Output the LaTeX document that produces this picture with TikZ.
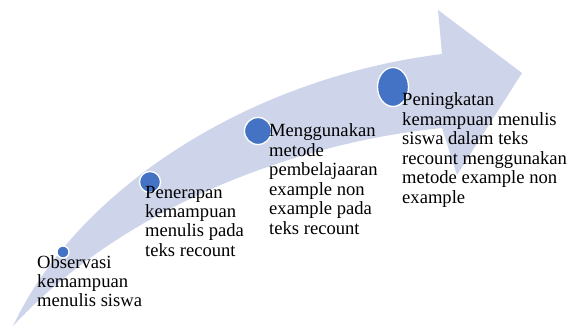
\documentclass[tikz,border=0pt]{standalone}
\usepackage{fontspec}
\setmainfont{Liberation Serif}
\usetikzlibrary{shapes.geometric}
\definecolor{arrowfill}{HTML}{CED4EA}
\definecolor{dotblue}{HTML}{4472C4}
\begin{document}
\begin{tikzpicture}[x=1pt,y=-1pt,
  dot/.style={fill=dotblue,draw=white,line width=1.3pt},
  lbl/.style={anchor=base west,inner sep=0pt,font=\fontsize{18.6}{19.5}\selectfont}]
\useasboundingbox (0,0) rectangle (568,326);
\fill[arrowfill]
  (13,326) .. controls (78,188) and (250,78) .. (442,54) -- (438,10) -- (522,73)
  -- (457,175) -- (442,128) .. controls (300,142) and (125,205) .. (13,326) -- cycle;
\node[dot,circle,minimum size=12pt,inner sep=0pt] (d1) at (63,252) {};
\node[dot,circle,minimum size=21pt,inner sep=0pt] (d2) at (150,182) {};
\node[dot,circle,minimum size=27pt,inner sep=0pt] (d3) at (258,131) {};
\node[dot,ellipse,minimum width=31pt,minimum height=39pt,inner sep=0pt] (d4) at (393,87) {};
\node[lbl] (t1) at (37,268) {\vtop{\hbox{Observasi}\hbox{kemampuan}\hbox{menulis siswa}}};
\node[lbl] (t2) at (145,198) {\vtop{\hbox{Penerapan}\hbox{kemampuan}\hbox{menulis pada}\hbox{teks recount}}};
\node[lbl] (t3) at (269,137) {\vtop{\hbox{Menggunakan}\hbox{metode}\hbox{pembelajaaran}\hbox{example non}\hbox{example pada}\hbox{teks recount}}};
\node[lbl] (t4) at (402,106) {\vtop{\hbox{Peningkatan}\hbox{kemampuan menulis}\hbox{siswa dalam teks}\hbox{recount menggunakan}\hbox{metode example non}\hbox{example}}};
\end{tikzpicture}
\end{document}
